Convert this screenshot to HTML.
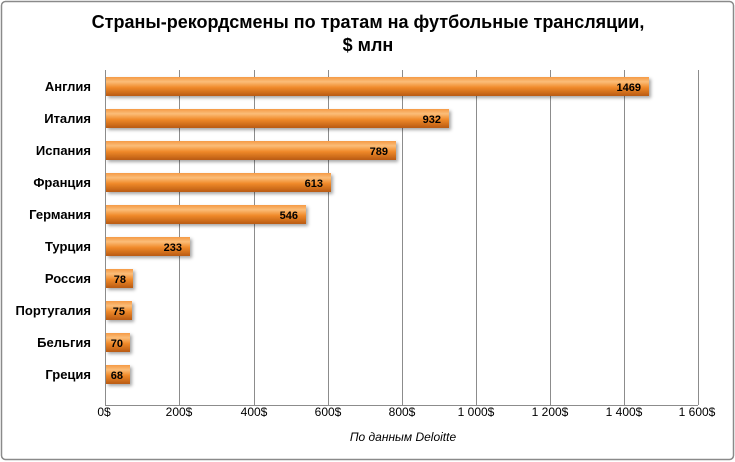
<!DOCTYPE html>
<html><head><meta charset="utf-8"><style>
body{margin:0;background:#fff;}
svg{display:block;font-family:"Liberation Sans",Arial,sans-serif;}
</style></head><body>
<svg width="735" height="462" viewBox="0 0 735 462">
<defs>
<linearGradient id="g" x1="0" y1="0" x2="0" y2="1">
<stop offset="0" stop-color="#f59a45"/><stop offset="0.25" stop-color="#fbbd78"/><stop offset="0.55" stop-color="#f08a2a"/><stop offset="1" stop-color="#b95a12"/>
</linearGradient>
<filter id="s" x="-10%" y="-30%" width="130%" height="180%"><feDropShadow dx="2" dy="2" stdDeviation="1.5" flood-color="#000" flood-opacity="0.35"/></filter>
</defs>
<rect x="1.5" y="1.5" width="732" height="458" rx="4" fill="#fff" stroke="#8a8a8a" stroke-width="1.5"/>
<text x="368" y="28" text-anchor="middle" font-size="18" font-weight="bold">Страны-рекордсмены по тратам на футбольные трансляции,</text>
<text x="368" y="51" text-anchor="middle" font-size="18" font-weight="bold">$ млн</text>
<g stroke="#8c8c8c" stroke-width="1">
<line x1="179.5" y1="70" x2="179.5" y2="405"/><line x1="254.5" y1="70" x2="254.5" y2="405"/><line x1="328.5" y1="70" x2="328.5" y2="405"/><line x1="402.5" y1="70" x2="402.5" y2="405"/><line x1="476.5" y1="70" x2="476.5" y2="405"/><line x1="550.5" y1="70" x2="550.5" y2="405"/><line x1="624.5" y1="70" x2="624.5" y2="405"/><line x1="698.5" y1="70" x2="698.5" y2="405"/>
<line x1="105.5" y1="70" x2="105.5" y2="405.5"/><line x1="105" y1="405.5" x2="698" y2="405.5"/>
</g>
<g font-size="13" font-weight="bold" text-anchor="end">
<text x="91" y="91">Англия</text><text x="91" y="123">Италия</text><text x="91" y="155">Испания</text><text x="91" y="187">Франция</text><text x="91" y="219">Германия</text><text x="91" y="251">Турция</text><text x="91" y="283">Россия</text><text x="91" y="315">Португалия</text><text x="91" y="347">Бельгия</text><text x="91" y="379">Греция</text>
</g>
<g fill="url(#g)" filter="url(#s)">
<rect x="106" y="77" width="543" height="19"/>
<rect x="106" y="109" width="343" height="19"/>
<rect x="106" y="141" width="290" height="19"/>
<rect x="106" y="173" width="225" height="19"/>
<rect x="106" y="205" width="200" height="19"/>
<rect x="106" y="237" width="84" height="19"/>
<rect x="106" y="269" width="27" height="19"/>
<rect x="106" y="301" width="26" height="19"/>
<rect x="106" y="333" width="24" height="19"/>
<rect x="106" y="365" width="24" height="19"/>
</g>
<g font-size="11" font-weight="bold" text-anchor="end">
<text x="641" y="91">1469</text><text x="441" y="123">932</text><text x="388" y="155">789</text><text x="323" y="187">613</text><text x="298" y="219">546</text><text x="182" y="251">233</text><text x="126" y="283">78</text><text x="125" y="315">75</text><text x="123" y="347">70</text><text x="123" y="379">68</text>
</g>
<g font-size="12" text-anchor="middle">
<text x="104" y="416">0$</text><text x="179" y="416">200$</text><text x="254" y="416">400$</text><text x="328" y="416">600$</text><text x="402" y="416">800$</text><text x="476" y="416">1 000$</text><text x="550" y="416">1 200$</text><text x="624" y="416">1 400$</text><text x="697" y="416">1 600$</text>
</g>
<text x="403" y="441" text-anchor="middle" font-size="12" font-style="italic">По данным  Deloitte</text>
</svg>
</body></html>
